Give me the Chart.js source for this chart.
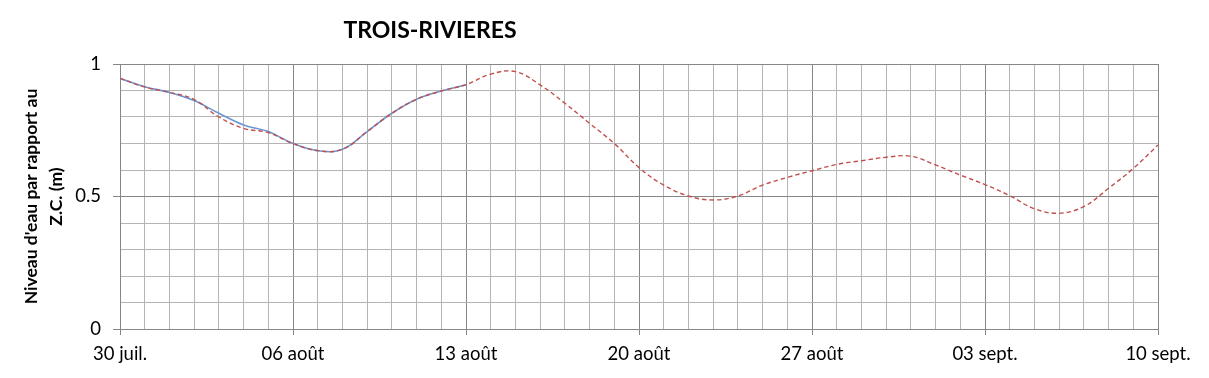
<!DOCTYPE html>
<html>
<head>
<meta charset="utf-8">
<script src="https://cdn.jsdelivr.net/npm/chart.js@4.4.0/dist/chart.umd.min.js"></script>
<style>
  html, body { margin: 0; padding: 0; background: #fff; }
  #wrap { width: 1209px; height: 378px; }
</style>
</head>
<body>
<div id="wrap"><canvas id="myChart"></canvas></div>
<script>
//--Data--//
const chartTitle = 'TROIS-RIVIERES'
const yTitle = ["Niveau d'eau par rapport au", 'Z.C. (m)']
// one label every 7 days, starting 30 juil.
const weekLabels = ['30 juil.', '06 août', '13 août', '20 août', '27 août', '03 sept.', '10 sept.']
// daily values, day 0 = 30 juil.
const observed = [0.946, 0.914, 0.893, 0.862, 0.814, 0.770, 0.745, 0.700, 0.673, 0.678,
  0.745, 0.814, 0.867, 0.898, 0.922]
const forecast = [0.946, 0.913, 0.893, 0.866, 0.800, 0.757, 0.741, 0.700, 0.673, 0.678,
  0.745, 0.814, 0.867, 0.898, 0.922, 0.962, 0.971, 0.921, 0.852, 0.776,
  0.700, 0.609, 0.543, 0.502, 0.487, 0.502, 0.543, 0.572, 0.597, 0.621,
  0.635, 0.648, 0.652, 0.619, 0.581, 0.545, 0.503, 0.454, 0.437, 0.462,
  0.531, 0.606, 0.694]
const yTickLabels = { 0: '0', 0.5: '0.5', 1: '1' }
//--Data--//

const FONT = "Lato, 'Open Sans', sans-serif"
Chart.defaults.font.family = FONT
Chart.defaults.color = '#000'
Chart.defaults.plugins.legend.display = false

const toPoints = arr => arr.map((v, i) => ({ x: i, y: v }))
const isWeek = v => Math.abs(v % 7) < 1e-6
const isHalf = v => Math.abs(v * 2 - Math.round(v * 2)) < 1e-6

const minorGrid = '#b4b4b4'
const majorGrid = '#868686'

// titles drawn by hand: the sheet puts them off-center
const titlePlugin = {
  id: 'sheetTitles',
  afterDraw(chart) {
    const ctx = chart.ctx
    const area = chart.chartArea
    ctx.save()
    ctx.fillStyle = '#000'
    ctx.textAlign = 'center'
    ctx.textBaseline = 'middle'
    ctx.font = "bold 23px " + FONT
    ctx.fillText(chartTitle, 430, 31)

    // y axis title, two rotated lines
    const midY = (area.top + area.bottom) / 2
    ctx.font = "bold 17.5px " + FONT
    ctx.translate(0, midY)
    ctx.rotate(-Math.PI / 2)
    ctx.fillText(yTitle[0], 0, 31)
    ctx.fillText(yTitle[1], 0, 56)
    ctx.restore()
  }
}

new Chart(document.getElementById('myChart').getContext('2d'), {
  type: 'line',
  data: {
    datasets: [
      {
        label: 'Prévision',
        data: toPoints(forecast),
        borderColor: '#c0504d',
        borderWidth: 1.4,
        borderDash: [4.5, 3],
        pointRadius: 0,
        tension: 0.4,
        fill: false
      },
      {
        label: 'Observé',
        data: toPoints(observed),
        borderColor: '#6a98d4',
        borderWidth: 1.6,
        pointRadius: 0,
        tension: 0.4,
        fill: false
      }
    ]
  },
  options: {
    responsive: true,
    maintainAspectRatio: false,
    animation: false,
    layout: { padding: { left: 0, top: 64, right: 51, bottom: 0 } },
    plugins: { tooltip: { enabled: false } },
    scales: {
      x: {
        type: 'linear',
        min: 0,
        max: 42,
        afterFit: s => { s.height = 49 },
        border: { color: majorGrid, width: 1 },
        grid: {
          color: c => isWeek(c.tick.value) ? majorGrid : minorGrid,
          tickColor: c => isWeek(c.tick.value) ? majorGrid : 'rgba(0,0,0,0)',
          tickLength: 6
        },
        ticks: {
          stepSize: 1,
          autoSkip: false,
          maxRotation: 0,
          padding: 8,
          font: { size: 18.5 },
          callback: v => isWeek(v) ? weekLabels[v / 7] : ''
        }
      },
      y: {
        min: 0,
        max: 1,
        afterFit: s => { s.width = 120 },
        border: { color: majorGrid, width: 1 },
        grid: {
          color: c => isHalf(c.tick.value) ? majorGrid : minorGrid,
          tickColor: c => isHalf(c.tick.value) ? majorGrid : 'rgba(0,0,0,0)',
          tickLength: 7
        },
        ticks: {
          stepSize: 0.1,
          autoSkip: false,
          padding: 12,
          font: { size: 18.5 },
          callback: v => isHalf(v) ? yTickLabels[Math.round(v * 2) / 2] : ''
        }
      }
    }
  },
  plugins: [titlePlugin]
});
</script>
</body>
</html>
